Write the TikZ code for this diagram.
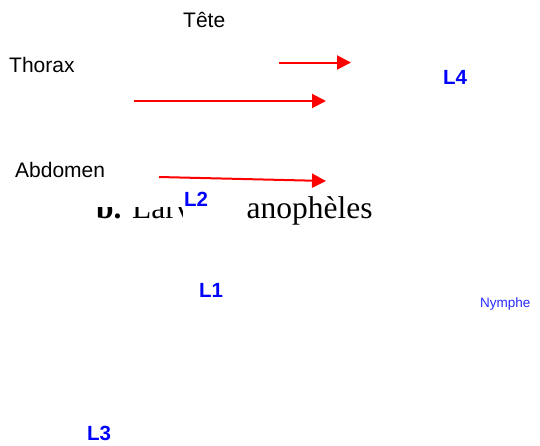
\documentclass[tikz,border=0pt]{standalone}
\usepackage{fontspec}
\setmainfont{Liberation Serif}
\setsansfont{Liberation Sans}
\usetikzlibrary{arrows.meta}
\definecolor{stadeblue}{RGB}{0,0,255}
\definecolor{nympheblue}{RGB}{40,40,255}
\definecolor{flechered}{RGB}{255,0,0}

\begin{document}
\begin{tikzpicture}[x=1pt, y=-1pt,
    partie/.style={font=\sffamily\fontsize{21}{25}\selectfont, text=black, inner sep=0pt, anchor=base west},
    stade/.style={font=\sffamily\bfseries\fontsize{20.5}{24}\selectfont, text=stadeblue, inner sep=0pt, anchor=base west},
    fleche/.style={-{Triangle[length=14pt,width=14pt]}, flechered, line width=2pt}]
    \useasboundingbox (0,0) rectangle (540,445);

    % Legend, partly hidden by the L2 box
    \node[font=\fontsize{31.5}{36}\selectfont, inner sep=0pt, anchor=base west] (legende) at (96,218) {\textbf{b.} Larve d'\hspace{7pt}anophèles};
    \fill[white] (90,186) rectangle (184,207);
    \node[stade, fill=white, anchor=north west, inner sep=1pt, text width=57pt, text height=18pt, text depth=24pt] (l2) at (183,187) {L2};

    % Body parts
    \node[partie] (tete) at (183,27) {Tête};
    \node[partie] (thorax) at (9,72) {Thorax};
    \node[partie] (abdomen) at (15,177) {Abdomen};

    % Stages
    \node[stade] (l4) at (443,84) {L4};
    \node[stade] (l1) at (199,297) {L1};
    \node[stade] (l3) at (87,440) {L3};
    \node[font=\sffamily\fontsize{13.5}{16}\selectfont, text=nympheblue, inner sep=0pt, anchor=base west] (nymphe) at (480,307) {Nymphe};

    % Arrows
    \coordinate (a1) at (279,62.5);
    \coordinate (b1) at (351,62.5);
    \coordinate (a2) at (134,101);
    \coordinate (b2) at (326,101);
    \coordinate (a3) at (159,177);
    \coordinate (b3) at (326,181);
    \foreach \i in {1,2,3} {
        \draw[fleche] (a\i) -- (b\i);
    }
\end{tikzpicture}
\end{document}
